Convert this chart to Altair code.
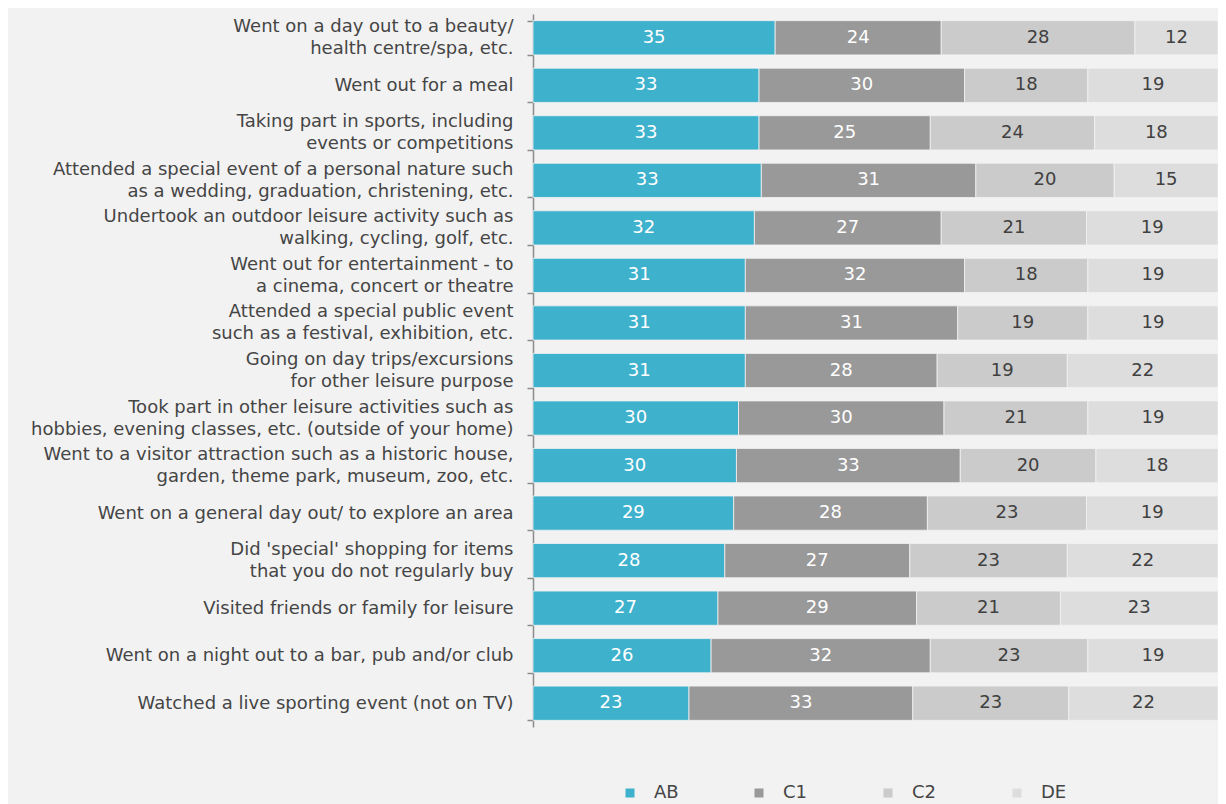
import altair as alt
import pandas as pd

categories = [
    "Went on a day out to a beauty/|health centre/spa, etc.",
    "Went out for a meal",
    "Taking part in sports, including|events or competitions",
    "Attended a special event of a personal nature such|as a wedding, graduation, christening, etc.",
    "Undertook an outdoor leisure activity such as|walking, cycling, golf, etc.",
    "Went out for entertainment - to|a cinema, concert or theatre",
    "Attended a special public event|such as a festival, exhibition, etc.",
    "Going on day trips/excursions|for other leisure purpose",
    "Took part in other leisure activities such as|hobbies, evening classes, etc. (outside of your home)",
    "Went to a visitor attraction such as a historic house,|garden, theme park, museum, zoo, etc.",
    "Went on a general day out/ to explore an area",
    "Did 'special' shopping for items|that you do not regularly buy",
    "Visited friends or family for leisure",
    "Went on a night out to a bar, pub and/or club",
    "Watched a live sporting event (not on TV)",
]
groups = ["AB", "C1", "C2", "DE"]
ab = [35, 33, 33, 33, 32, 31, 31, 31, 30, 30, 29, 28, 27, 26, 23]
c1 = [24, 30, 25, 31, 27, 32, 31, 28, 30, 33, 28, 27, 29, 32, 33]
c2 = [28, 18, 24, 20, 21, 18, 19, 19, 21, 20, 23, 23, 21, 23, 23]
de = [12, 19, 18, 15, 19, 19, 19, 22, 19, 18, 19, 22, 23, 19, 22]
colors = ["#3eb1cc", "#999999", "#cbcbcb", "#dddddd"]
text_colors = ["#ffffff", "#ffffff", "#404040", "#404040"]

rows = []
for i, cat in enumerate(categories):
    for g, vals in zip(groups, [ab, c1, c2, de]):
        rows.append({"cat": cat, "grp": g, "order": groups.index(g), "value": vals[i],
                     "tc": text_colors[groups.index(g)]})
df = pd.DataFrame(rows)

FONT = "DejaVu Sans"

base = alt.Chart(df).transform_joinaggregate(
    total="sum(value)", groupby=["cat"]
).transform_stack(
    stack="value", groupby=["cat"], as_=["v0", "v1"], sort=[alt.SortField("order", order="ascending")]
).transform_calculate(
    x0="datum.v0 / datum.total",
    x1="datum.v1 / datum.total",
    xm="(datum.v0 + datum.v1) / 2 / datum.total",
)

y_enc = alt.Y(
    "cat:N", sort=categories, title=None,
    scale=alt.Scale(paddingInner=0.28, paddingOuter=0.14),
    axis=alt.Axis(
        labelExpr="split(datum.label, '|')",
        labelFont=FONT, labelFontSize=18, labelColor="#454545",
        labelLineHeight=22, labelPadding=14, labelLimit=600,
        labelBaseline={"condition": {"test": "indexof(datum.label, '|') >= 0", "value": "line-bottom"},
                       "value": "middle"},
        tickBand="extent", ticks=True, tickSize=6, tickColor="#8c8c8c", tickWidth=1.5,
        domainColor="#8c8c8c", domainWidth=1.5, grid=False,
    ),
)

bars = base.mark_bar(stroke="#f2f2f2", strokeWidth=0.8).encode(
    y=y_enc,
    x=alt.X("x0:Q", scale=alt.Scale(domain=[0, 1], nice=False), axis=None),
    x2="x1:Q",
    color=alt.Color(
        "grp:N", scale=alt.Scale(domain=groups, range=colors),
        legend=alt.Legend(
            title=None, orient="none", direction="horizontal", columns=4,
            legendX=88, legendY=770, symbolType="square", symbolSize=81,
            symbolStrokeWidth=0, labelFont=FONT, labelFontSize=18, labelColor="#454545",
            labelOffset=15, gridAlign="all", columnPadding=70,
        ),
    ),
)

labels = base.mark_text(font=FONT, fontSize=18, baseline="middle", align="center").encode(
    y=alt.Y("cat:N", sort=categories),
    x=alt.X("xm:Q"),
    text=alt.Text("value:Q"),
    color=alt.Color("tc:N", scale=None),
)

chart = alt.layer(bars, labels).properties(
    width=685, height=713,
    autosize=alt.AutoSizeParams(type="none"),
    padding={"left": 525, "top": 6, "right": 0, "bottom": 77},
    background="#f2f2f2",
).configure_view(stroke=None)

chart.save("out.html", embed_options={"renderer": "svg", "actions": False})
